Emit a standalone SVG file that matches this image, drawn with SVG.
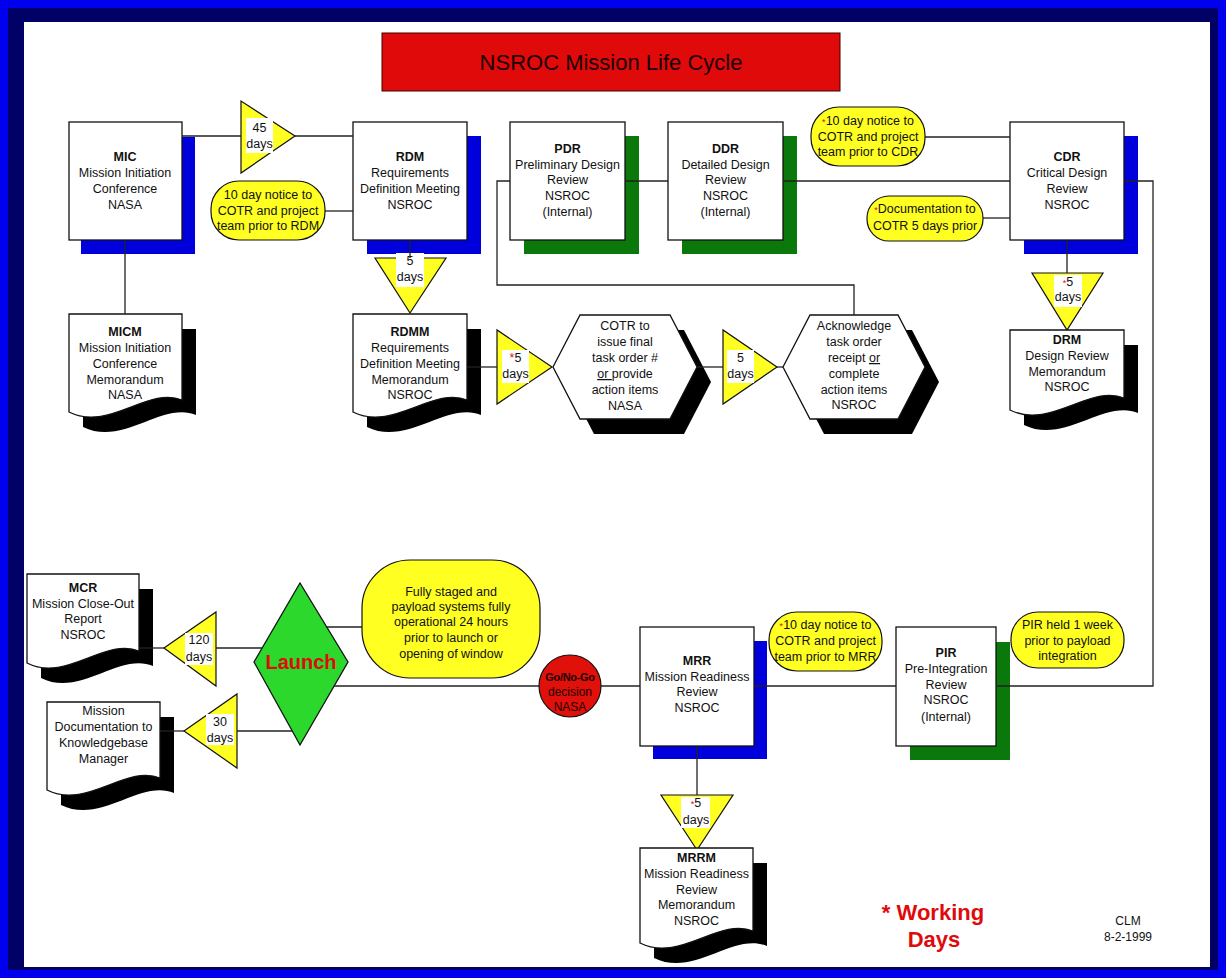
<svg xmlns="http://www.w3.org/2000/svg" width="1226" height="978" viewBox="0 0 1226 978">
<style>
.box{fill:#fff;stroke:#111;stroke-width:1.3}
.sb{fill:#0000dd}
.sg{fill:#0a780a}
.sk{fill:#000}
.yel{fill:#ffff22;stroke:#111;stroke-width:1.2}
.wb{fill:#fff}
.conn path{fill:none;stroke:#222;stroke-width:1.3}
text{font-family:"Liberation Sans",Arial,sans-serif;font-size:12.5px;fill:#111;text-anchor:middle}
.b{font-weight:bold}
.r{fill:#e00a0a}
</style>
<rect x="0" y="0" width="1226" height="978" fill="#0000ee"/>
<rect x="8" y="8" width="1210" height="962" fill="#000066"/>
<rect x="24" y="22" width="1186" height="945" fill="#fff"/>

<g id="title">
<rect x="382" y="33" width="458" height="58" fill="#e00a0a" stroke="#400" stroke-width="1"/>
<text x="611" y="70" style="font-size:22px;fill:#1a0000">NSROC Mission Life Cycle</text>
</g>

<g id="MIC">
<rect class="sb" x="81" y="137" width="114" height="117"/>
<rect class="box" x="69" y="122" width="113" height="118"/>
<text x="125" y="161" class="b">MIC</text>
<text x="125" y="177">Mission Initiation</text>
<text x="125" y="193">Conference</text>
<text x="125" y="209">NASA</text>
</g>

<g id="t45">
<polygon class="yel" points="241,101 241,173 295,136"/>
<rect class="wb" x="246" y="118" width="27" height="35"/>
<text x="259.5" y="132">45</text>
<text x="259.5" y="148">days</text>
</g>

<g id="RDMnotice">
<rect class="yel" x="211" y="181" width="114" height="59" rx="28"/>
<text x="268" y="199">10 day notice to</text>
<text x="268" y="215">COTR and project</text>
<text x="268" y="230">team prior to RDM</text>
</g>

<g id="RDM">
<rect class="sb" x="367" y="136" width="114" height="118"/>
<rect class="box" x="353" y="122" width="114" height="118"/>
<text x="410" y="161" class="b">RDM</text>
<text x="410" y="177">Requirements</text>
<text x="410" y="193">Definition Meeting</text>
<text x="410" y="209">NSROC</text>
</g>

<g id="t5a">
<polygon class="yel" points="375,258 446,258 410,313"/>
<rect class="wb" x="396" y="253" width="28" height="34"/>
<text x="410" y="265">5</text>
<text x="410" y="281">days</text>
</g>

<g id="PDR">
<rect class="sg" x="524" y="136" width="115" height="118"/>
<rect class="box" x="510" y="122" width="115" height="118"/>
<text x="567.5" y="153" class="b">PDR</text>
<text x="567.5" y="169">Preliminary Design</text>
<text x="567.5" y="184">Review</text>
<text x="567.5" y="200">NSROC</text>
<text x="567.5" y="216">(Internal)</text>
</g>

<g id="DDR">
<rect class="sg" x="682" y="136" width="115" height="118"/>
<rect class="box" x="668" y="122" width="115" height="118"/>
<text x="725.5" y="153" class="b">DDR</text>
<text x="725.5" y="169">Detailed Design</text>
<text x="725.5" y="184">Review</text>
<text x="725.5" y="200">NSROC</text>
<text x="725.5" y="216">(Internal)</text>
</g>

<g id="CDRnotice">
<rect class="yel" x="811" y="107" width="114" height="59" rx="28"/>
<text x="868" y="125"><tspan class="r" style="font-size:9px">*</tspan>10 day notice to</text>
<text x="868" y="141">COTR and project</text>
<text x="868" y="156">team prior to CDR</text>
</g>

<g id="DOCnote">
<rect class="yel" x="867" y="196" width="116" height="45" rx="22"/>
<text x="925" y="213"><tspan class="r" style="font-size:9px">*</tspan>Documentation to</text>
<text x="925" y="230">COTR 5 days prior</text>
</g>

<g id="CDR">
<rect class="sb" x="1024" y="136" width="114" height="118"/>
<rect class="box" x="1010" y="122" width="114" height="118"/>
<text x="1067" y="161" class="b">CDR</text>
<text x="1067" y="177">Critical Design</text>
<text x="1067" y="193">Review</text>
<text x="1067" y="209">NSROC</text>
</g>

<g id="t5drm">
<polygon class="yel" points="1032,273 1103,273 1067,330"/>
<rect class="wb" x="1054" y="275" width="28" height="32"/>
<text x="1068" y="286"><tspan class="r" style="font-size:9px">*</tspan>5</text>
<text x="1068" y="301">days</text>
</g>

<g id="DRM">
<g transform="translate(1010,330)">
<path class="sk" transform="translate(14,15)" d="M0,0 H114 V68 C80,54 40,100 0,80 Z"/>
<path class="box" d="M0,0 H114 V68 C80,54 40,100 0,80 Z"/>
</g>
<text x="1067" y="344" class="b">DRM</text>
<text x="1067" y="360">Design Review</text>
<text x="1067" y="376">Memorandum</text>
<text x="1067" y="391">NSROC</text>
</g>

<g id="MICM">
<g transform="translate(69,314)">
<path class="sk" transform="translate(14,15)" d="M0,0 H113 V86 C79,72 40,118 0,98 Z"/>
<path class="box" d="M0,0 H113 V86 C79,72 40,118 0,98 Z"/>
</g>
<text x="125" y="336" class="b">MICM</text>
<text x="125" y="352">Mission Initiation</text>
<text x="125" y="368">Conference</text>
<text x="125" y="384">Memorandum</text>
<text x="125" y="399">NASA</text>
</g>

<g id="RDMM">
<g transform="translate(353,314)">
<path class="sk" transform="translate(14,15)" d="M0,0 H114 V86 C80,72 40,118 0,98 Z"/>
<path class="box" d="M0,0 H114 V86 C80,72 40,118 0,98 Z"/>
</g>
<text x="410" y="336" class="b">RDMM</text>
<text x="410" y="352">Requirements</text>
<text x="410" y="368">Definition Meeting</text>
<text x="410" y="384">Memorandum</text>
<text x="410" y="399">NSROC</text>
</g>

<g id="t5b">
<polygon class="yel" points="497,330 497,404 552,367"/>
<rect class="wb" x="502" y="350" width="27" height="33"/>
<text x="515.5" y="362"><tspan class="r">*</tspan>5</text>
<text x="515.5" y="378">days</text>
</g>

<g id="COTR">
<polygon class="sk" points="567,382 594,330 684,330 711,382 684,434 594,434"/>
<polygon class="box" points="553,367 580,315 670,315 697,367 670,419 580,419"/>
<text x="625" y="330">COTR to</text>
<text x="625" y="346">issue final</text>
<text x="625" y="362">task order #</text>
<text x="625" y="378"><tspan text-decoration="underline">or </tspan>provide</text>
<text x="625" y="394">action items</text>
<text x="625" y="410">NASA</text>
</g>

<g id="t5c">
<polygon class="yel" points="723,330 723,404 777,367"/>
<rect class="wb" x="727" y="350" width="27" height="33"/>
<text x="740.5" y="362">5</text>
<text x="740.5" y="378">days</text>
</g>

<g id="ACK">
<polygon class="sk" points="797,382 824,330 912,330 939,382 912,434 824,434"/>
<polygon class="box" points="783,367 810,315 898,315 925,367 898,419 810,419"/>
<text x="854" y="330">Acknowledge</text>
<text x="854" y="346">task order</text>
<text x="854" y="362">receipt <tspan text-decoration="underline">or</tspan></text>
<text x="854" y="378">complete</text>
<text x="854" y="394">action items</text>
<text x="854" y="409">NSROC</text>
</g>

<g id="MCR">
<g transform="translate(27,574)">
<path class="sk" transform="translate(14,15)" d="M0,0 H112 V77 C78,63 39,109 0,89 Z"/>
<path class="box" d="M0,0 H112 V77 C78,63 39,109 0,89 Z"/>
</g>
<text x="83" y="592" class="b">MCR</text>
<text x="83" y="608">Mission Close-Out</text>
<text x="83" y="623">Report</text>
<text x="83" y="639">NSROC</text>
</g>

<g id="t120">
<polygon class="yel" points="164,648 216,612 216,686"/>
<rect class="wb" x="185" y="633" width="28" height="32"/>
<text x="199" y="644">120</text>
<text x="199" y="661">days</text>
</g>

<g id="MDOC">
<g transform="translate(47,702)">
<path class="sk" transform="translate(14,15)" d="M0,0 H113 V76 C79,62 40,108 0,88 Z"/>
<path class="box" d="M0,0 H113 V76 C79,62 40,108 0,88 Z"/>
</g>
<text x="103.5" y="715">Mission</text>
<text x="103.5" y="731">Documentation to</text>
<text x="103.5" y="747">Knowledgebase</text>
<text x="103.5" y="763">Manager</text>
</g>

<g id="t30">
<polygon class="yel" points="184,731 237,694 237,768"/>
<rect class="wb" x="206" y="714" width="28" height="31"/>
<text x="220" y="726">30</text>
<text x="220" y="742">days</text>
</g>

<g id="LAUNCH">
<polygon points="300,583 348,662 300,745 254,662" fill="#2bd82b" stroke="#111" stroke-width="1.3"/>
<text x="301" y="669" class="b" style="font-size:20px;fill:#e00a0a">Launch</text>
</g>

<g id="STAGED">
<rect class="yel" x="362" y="560" width="178" height="118" rx="48"/>
<text x="451" y="596">Fully staged and</text>
<text x="451" y="611">payload systems fully</text>
<text x="451" y="626">operational 24 hours</text>
<text x="451" y="642">prior to  launch or</text>
<text x="451" y="658">opening of window</text>
</g>

<g id="GONOGO">
<circle cx="570" cy="686" r="31" fill="#e0100a" stroke="#111" stroke-width="1.2"/>
<text x="570" y="681" class="b" style="fill:#220000;font-size:11px;letter-spacing:-0.3px">Go/No-Go</text>
<text x="570" y="696" style="fill:#220000;font-size:12px">decision</text>
<text x="570" y="711" style="fill:#220000;font-size:12px">NASA</text>
</g>

<g id="MRR">
<rect class="sb" x="653" y="641" width="114" height="118"/>
<rect class="box" x="640" y="627" width="114" height="119"/>
<text x="697" y="665" class="b">MRR</text>
<text x="697" y="681">Mission Readiness</text>
<text x="697" y="696">Review</text>
<text x="697" y="712">NSROC</text>
</g>

<g id="MRRnotice">
<rect class="yel" x="769" y="612" width="113" height="59" rx="28"/>
<text x="825.5" y="629"><tspan class="r" style="font-size:9px">*</tspan>10 day notice to</text>
<text x="825.5" y="645">COTR and project</text>
<text x="825.5" y="661">team prior to MRR</text>
</g>

<g id="PIR">
<rect class="sg" x="910" y="642" width="100" height="118"/>
<rect class="box" x="896" y="627" width="100" height="119"/>
<text x="946" y="657" class="b">PIR</text>
<text x="946" y="673">Pre-Integration</text>
<text x="946" y="689">Review</text>
<text x="946" y="704">NSROC</text>
<text x="946" y="721">(Internal)</text>
</g>

<g id="PIRnote">
<rect class="yel" x="1011" y="612" width="113" height="56" rx="27"/>
<text x="1067.5" y="629">PIR held 1  week</text>
<text x="1067.5" y="645">prior to payload</text>
<text x="1067.5" y="660">integration</text>
</g>

<g id="t5mrr">
<polygon class="yel" points="661,795 733,795 697,850"/>
<rect class="wb" x="681" y="797" width="29" height="31"/>
<text x="696" y="807"><tspan class="r" style="font-size:9px">*</tspan>5</text>
<text x="696" y="824">days</text>
</g>

<g id="MRRM">
<g transform="translate(640,848)">
<path class="sk" transform="translate(14,15)" d="M0,0 H113 V83 C79,69 40,115 0,95 Z"/>
<path class="box" d="M0,0 H113 V83 C79,69 40,115 0,95 Z"/>
</g>
<text x="696.5" y="862" class="b">MRRM</text>
<text x="696.5" y="878">Mission Readiness</text>
<text x="696.5" y="894">Review</text>
<text x="696.5" y="909">Memorandum</text>
<text x="696.5" y="925">NSROC</text>
</g>

<g id="legend">
<text x="933" y="920" class="b" style="font-size:22px;fill:#e00a0a">* Working</text>
<text x="934" y="947" class="b" style="font-size:22px;fill:#e00a0a">Days</text>
<text x="1128" y="925" style="font-size:12px">CLM</text>
<text x="1128" y="941" style="font-size:12px">8-2-1999</text>
</g>

<g id="connectors" class="conn">
<path d="M182,136 H241"/>
<path d="M295,136 H353"/>
<path d="M325,211 H353"/>
<path d="M125,240 V314"/>
<path d="M410,240 V258"/>
<path d="M467,367 H497"/>
<path d="M697,367 H723"/>
<path d="M777,367 H783"/>
<path d="M510,181 H497 V285 H854 V315"/>
<path d="M625,181 H668"/>
<path d="M783,181 H1010"/>
<path d="M925,137 H1010"/>
<path d="M983,218 H1010"/>
<path d="M1124,181 H1153 V686 H996"/>
<path d="M1067,240 V273"/>
<path d="M896,686 H754"/>
<path d="M640,686 H601"/>
<path d="M539,686 H334"/>
<path d="M326,627 H362"/>
<path d="M262,648 H216"/>
<path d="M164,648 H139"/>
<path d="M292,731 H237"/>
<path d="M184,731 H160"/>
<path d="M697,746 V795"/>
</g>
</svg>
